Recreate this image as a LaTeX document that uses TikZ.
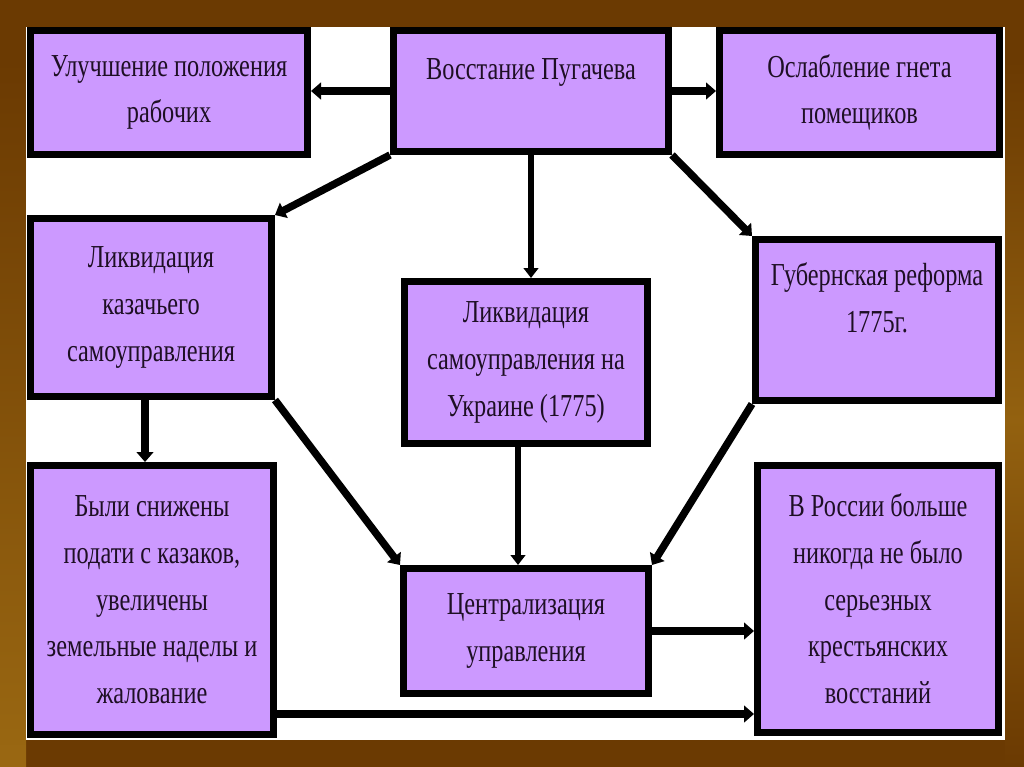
\documentclass[tikz,border=0pt]{standalone}
\usepackage{fontspec}
\setmainfont[FakeStretch=0.76]{Liberation Serif}
\usetikzlibrary{arrows.meta,calc}
\definecolor{boxfill}{HTML}{CC99FF}
\definecolor{framedark}{HTML}{6B3A02}
\definecolor{framelight}{HTML}{9A6812}
\definecolor{inktext}{HTML}{1E0F24}
\begin{document}
\begin{tikzpicture}[x=0.75pt,y=-0.75pt,
  box/.style={draw=black,line width=5.25pt,fill=boxfill,inner sep=0pt,
    text=inktext,align=center,font=\fontsize{24}{35}\selectfont},
  txt/.style={text=inktext,align=center,font=\fontsize{24}{35}\selectfont,inner sep=0pt},
  arr/.style={line width=5.6pt,-{Triangle[length=7.5pt,width=12.5pt]}},
  thinarr/.style={line width=4.5pt,-{Triangle[length=7.5pt,width=11pt]}}]
\useasboundingbox (0,0) rectangle (1024,767);
% frame
\fill[framedark] (0,0) rectangle (1024,767);
\shade[top color=framedark,bottom color=framelight] (0,60) rectangle (26,767);
\shade[top color=framedark,bottom color=framelight!85!framedark] (1005,60) rectangle (1024,420);
\shade[top color=framelight!85!framedark,bottom color=framedark] (1005,420) rectangle (1024,767);
\fill[white] (26,27) rectangle (1005,740);
% boxes
\node[box,minimum width=207.75pt,minimum height=93pt] (b1) at (169,92.5) {Улучшение положения\\рабочих};
\node[box,minimum width=206.25pt,minimum height=90.75pt] (b2) at (531,91) {};
\node[txt] (t2) at (531,72) {Восстание Пугачева};
\node[box,minimum width=210pt,minimum height=93pt] (b3) at (859.5,92.5) {Ослабление гнета\\помещиков};
\node[box,minimum width=180.75pt,minimum height=133.5pt] (b4) at (151,307.5) {Ликвидация\\казачьего\\самоуправления};
\node[box,minimum width=182.25pt,minimum height=121.5pt] (b5) at (526,362.5) {Ликвидация\\самоуправления на\\Украине (1775)};
\node[box,minimum width=182.25pt,minimum height=120.75pt] (b6) at (877,320) {};
\node[txt] (t6) at (877,298) {Губернская реформа\\1775г.};
\node[box,minimum width=182.25pt,minimum height=201.75pt] (b7) at (152,600) {Были снижены\\подати с казаков,\\увеличены\\земельные наделы и\\жалование};
\node[box,minimum width=183.75pt,minimum height=93.75pt] (b8) at (526,631) {Централизация\\управления};
\node[box,minimum width=180.75pt,minimum height=200.25pt] (b9) at (878,599) {В России больше\\никогда не было\\серьезных\\крестьянских\\восстаний};
% connector anchor points
\coordinate (c4) at ($(b4.south)+(-6,0)$);
\coordinate (c5) at ($(b5.south)+(-8,0)$);
\coordinate (c7) at ($(b7.south east)+(0,-24)$);
% connectors
\draw[arr] (b2.west) -- (b2.west -| b1.east);
\draw[arr] (b2.east) -- (b2.east -| b3.west);
\draw[arr] (b2.south west) -- (b4.north east);
\draw[thinarr] (b2.south) -- (b2.south |- b5.north);
\draw[arr] (b2.south east) -- (b6.north west);
\draw[arr] (c4) -- (c4 |- b7.north);
\draw[arr] (b4.south east) -- (b8.north west);
\draw[thinarr] (c5) -- (c5 |- b8.north);
\draw[arr] (b6.south west) -- (b8.north east);
\draw[arr] (b8.east) -- (b8.east -| b9.west);
\draw[arr] (c7) -- (c7 -| b9.west);
\end{tikzpicture}
\end{document}
